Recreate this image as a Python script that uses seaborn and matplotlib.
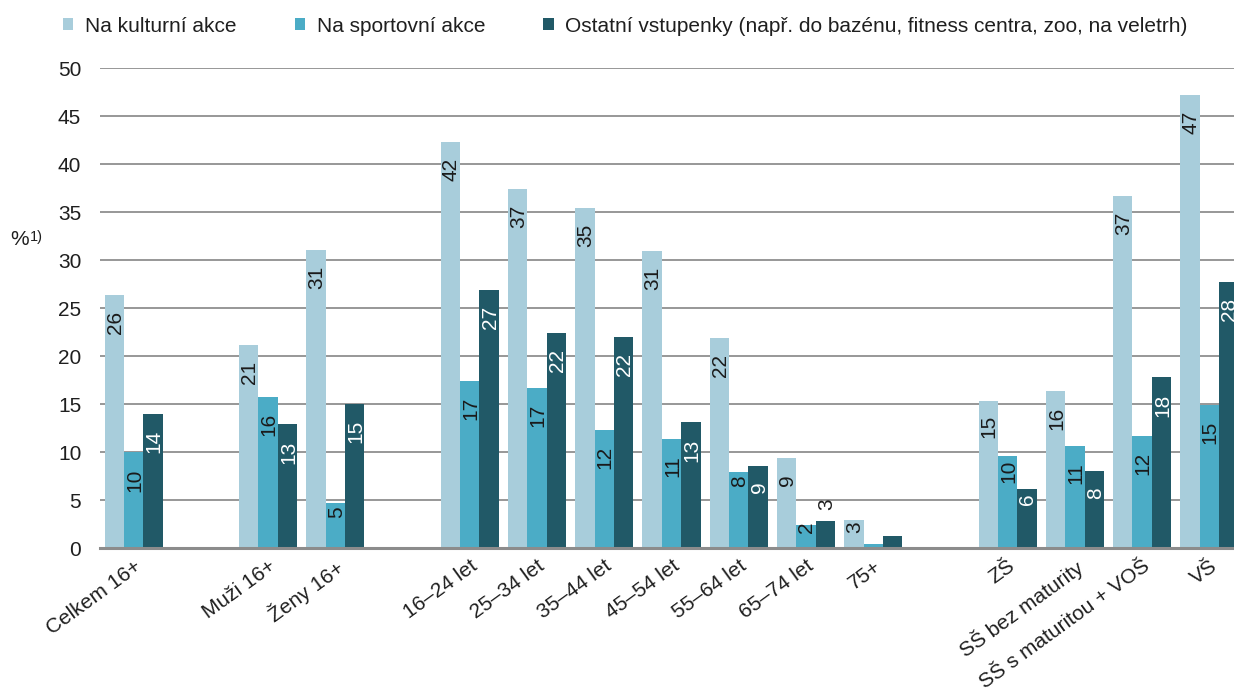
import numpy as np
import pandas as pd
import matplotlib
matplotlib.use("Agg")
import matplotlib.pyplot as plt
from matplotlib.patches import Patch
import seaborn as sns

# ---- data -------------------------------------------------------------
categories = [
    "Celkem 16+", " ", "Muži 16+", "Ženy 16+", "  ",
    "16–24 let", "25–34 let", "35–44 let", "45–54 let", "55–64 let",
    "65–74 let", "75+", "   ",
    "ZŠ", "SŠ bez maturity", "SŠ s maturitou + VOŠ", "VŠ",
]
series = [
    "Na kulturní akce",
    "Na sportovní akce",
    "Ostatní vstupenky (např. do bazénu, fitness centra, zoo, na veletrh)",
]
kulturni = [26.4, np.nan, 21.2, 31.1, np.nan, 42.3, 37.4, 35.4, 31.0, 21.9,
            9.4, 2.9, np.nan, 15.3, 16.4, 36.7, 47.2]
sportovni = [10.0, np.nan, 15.8, 4.7, np.nan, 17.4, 16.7, 12.3, 11.4, 7.9,
             2.4, 0.4, np.nan, 9.6, 10.6, 11.7, 14.9]
ostatni = [14.0, np.nan, 12.9, 15.0, np.nan, 26.9, 22.4, 22.0, 13.1, 8.6,
           2.8, 1.3, np.nan, 6.2, 8.0, 17.8, 27.7]
y_ticks = list(range(0, 51, 5))

colors = ["#A8CDDB", "#4BACC6", "#215967"]
label_colors = ["#1a1a1a", "#1a1a1a", "#ffffff"]
text_color = "#1f1f1f"
FS = 15

# vertical offset of a value label from the bar top (points); a few labels sit differently
default_offset = -11.5
label_offset = {
    ("Ženy 16+", 1): -2.2,
    ("55–64 let", 1): -2.4,
    ("65–74 let", 1): 2.4,
    ("65–74 let", 2): 8.0,
    ("75+", 0): -0.7,
    ("ZŠ", 0): -10.0,
    ("ZŠ", 1): -2.2,
    ("ZŠ", 2): -3.6,
}
outside_dark = {("65–74 let", 2)}

df = pd.DataFrame({"kategorie": categories, series[0]: kulturni,
                   series[1]: sportovni, series[2]: ostatni})
long = df.melt(id_vars="kategorie", var_name="typ", value_name="podil").dropna()

# ---- figure -----------------------------------------------------------
sns.set_theme(style="white")
plt.rcParams["font.family"] = ["Liberation Sans", "DejaVu Sans"]

W, H = 1234, 688
fig = plt.figure(figsize=(W / 100, H / 100), dpi=100)
ax = fig.add_axes([100 / W, (H - 548.3) / H, 1143 / W, (548.3 - 68) / H])

sns.barplot(data=long, x="kategorie", y="podil", hue="typ",
            order=categories, hue_order=series, palette=colors,
            saturation=1, width=0.863, linewidth=0, errorbar=None,
            legend=False, ax=ax)

ax.set_xlim(-0.5, len(categories) - 0.5)
ax.set_ylim(0, 50)
ax.set_yticks(y_ticks)
ax.set_xlabel("")
ax.set_ylabel("")
ax.yaxis.grid(True, color="#8f8f8f", linewidth=1.3)
ax.set_axisbelow(True)
for side in ("left", "top", "right"):
    ax.spines[side].set_visible(False)
ax.spines["bottom"].set_color("#8c8c8c")
ax.spines["bottom"].set_linewidth(2.2)
ax.spines["bottom"].set_zorder(5)

ax.tick_params(axis="y", length=0, pad=13.5, labelsize=FS, labelcolor=text_color)
ax.tick_params(axis="x", length=0, pad=6, labelsize=FS, labelcolor=text_color)
for lbl in ax.get_xticklabels():
    lbl.set_rotation(36)
    lbl.set_ha("right")
    lbl.set_rotation_mode("anchor")

# value labels, rotated, at the top of each bar
for s_idx, cont in enumerate(ax.containers):
    for bar in cont:
        h = bar.get_height()
        if np.isnan(h) or h < 2:
            continue
        xc = bar.get_x() + bar.get_width() / 2
        cat = categories[int(round(xc))]
        key = (cat, s_idx)
        off = label_offset.get(key, default_offset)
        col = text_color if key in outside_dark else label_colors[s_idx]
        ax.annotate(f"{int(np.floor(h + 0.5))}", xy=(xc, h),
                    xytext=(0.7, off), textcoords="offset points",
                    rotation=90, ha="center", va="top" if off < 5 else "bottom",
                    fontsize=FS, color=col, annotation_clip=False)

# unit label with footnote mark
fig.text(10 / W, 1 - 240 / H, "%", fontsize=FS, color=text_color, va="center", ha="left")
fig.text(30 / W, 1 - 237 / H, "1)", fontsize=10.5, color=text_color, va="center", ha="left")

# legend
handles = [Patch(facecolor=c, edgecolor="none") for c in colors]
fig.legend(handles, series, loc="center left", bbox_to_anchor=(63 / W, 1 - 26 / H),
           ncol=3, frameon=False, fontsize=FS, labelcolor=text_color,
           handlelength=0.5, handleheight=0.5, handletextpad=0.55,
           columnspacing=2.8, borderpad=0, borderaxespad=0)

fig.savefig("out.png", dpi=100)
